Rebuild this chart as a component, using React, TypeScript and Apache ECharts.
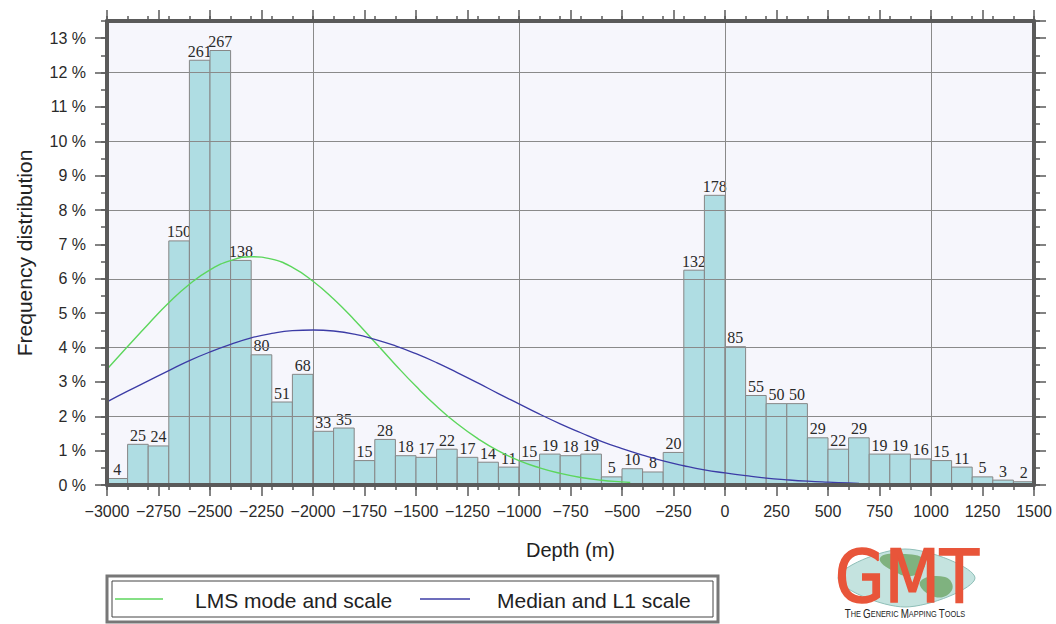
import React, { useEffect, useRef } from 'react';
import * as echarts from 'echarts';

// Histogram bins (start of each 100 m bin) and counts
const binStarts = [
  -3000, -2900, -2800, -2700, -2600, -2500, -2400, -2300, -2200, -2100,
  -2000, -1900, -1800, -1700, -1600, -1500, -1400, -1300, -1200, -1100,
  -1000, -900, -800, -700, -600, -500, -400, -300, -200, -100,
  0, 100, 200, 300, 400, 500, 600, 700, 800, 900,
  1000, 1100, 1200, 1300, 1400,
];
const binWidth = 100;
const counts = [
  4, 25, 24, 150, 261, 267, 138, 80, 51, 68,
  33, 35, 15, 28, 18, 17, 22, 17, 14, 11,
  15, 19, 18, 19, 5, 10, 8, 20, 132, 178,
  85, 55, 50, 50, 29, 22, 29, 19, 19, 16,
  15, 11, 5, 3, 2,
];

// LMS mode and scale curve (%)
const lmsX = [-3000, -2900, -2800, -2700, -2600, -2500, -2400, -2300, -2200, -2100, -2000, -1900, -1800, -1700, -1600, -1500, -1400, -1300, -1200, -1100, -1000, -900, -800, -700, -600, -500, -460];
const lmsY = [3.37, 4.03, 4.68, 5.30, 5.84, 6.26, 6.53, 6.64, 6.57, 6.33, 5.93, 5.41, 4.81, 4.16, 3.50, 2.87, 2.29, 1.78, 1.35, 0.99, 0.71, 0.50, 0.34, 0.22, 0.14, 0.09, 0.074];

// Median and L1 scale curve (%)
const l1X = [-3000, -2900, -2800, -2700, -2600, -2500, -2400, -2300, -2200, -2100, -2000, -1900, -1800, -1700, -1600, -1500, -1400, -1300, -1200, -1100, -1000, -900, -800, -700, -600, -500, -400, -300, -200, -100, 0, 100, 200, 300, 400, 500, 600, 651];
const l1Y = [2.42, 2.73, 3.03, 3.33, 3.62, 3.87, 4.09, 4.28, 4.41, 4.49, 4.51, 4.48, 4.39, 4.24, 4.05, 3.82, 3.56, 3.27, 2.97, 2.66, 2.36, 2.06, 1.78, 1.52, 1.27, 1.06, 0.87, 0.70, 0.56, 0.44, 0.35, 0.27, 0.20, 0.15, 0.11, 0.082, 0.060, 0.050];

const FRAME = '#5a5a5a';
const SANS = '"Liberation Sans", Arial, sans-serif';
const SERIF = '"Liberation Serif", "Times New Roman", serif';

export default function App() {
  const ref = useRef<HTMLDivElement>(null);

  useEffect(() => {
    if (!ref.current) return;
    const chart = echarts.init(ref.current, undefined, { renderer: 'svg' });
    const total = counts.reduce((a, b) => a + b, 0);
    const histData = binStarts.map((s, i) => [s, s + binWidth, (counts[i] / total) * 100, counts[i]]);

    const fmtX = (v: number) => (v < 0 ? '\u2212' + Math.abs(v) : String(v));

    const hiddenLine = { show: false, onZero: false };
    const frameLine = { show: true, onZero: false, lineStyle: { color: FRAME, width: 4 } };

    const baseX = {
      type: 'value',
      min: -3000,
      max: 1500,
      splitLine: { show: false },
      axisLabel: { show: false },
      axisLine: hiddenLine,
      axisTick: { show: false },
      z: 6,
    };
    const baseY = {
      type: 'value',
      min: 0,
      max: 13.5,
      splitLine: { show: false },
      axisLabel: { show: false },
      axisLine: hiddenLine,
      axisTick: { show: false },
      z: 6,
    };

    const option: any = {
      animation: false,
      grid: {
        left: 107, right: 22, top: 21, bottom: 139,
        show: true, backgroundColor: '#f6f6fc', borderWidth: 0,
      },
      xAxis: [
        {
          ...baseX, position: 'bottom', interval: 250,
          axisLine: frameLine,
          axisTick: { show: true, length: 11, lineStyle: { color: FRAME, width: 1.5 } },
          axisLabel: { show: true, formatter: fmtX, fontSize: 16, fontFamily: SANS, color: '#2a2a2a', margin: 18 },
          name: 'Depth (m)', nameLocation: 'middle', nameGap: 55,
          nameTextStyle: { fontSize: 20, fontFamily: SANS, color: '#222' },
        },
        {
          ...baseX, position: 'bottom', interval: 100,
          axisTick: { show: true, length: 5, lineStyle: { color: FRAME, width: 1.5 } },
        },
        {
          ...baseX, position: 'top', interval: 250,
          axisLine: frameLine,
          axisTick: { show: true, length: 11, lineStyle: { color: FRAME, width: 1.5 } },
        },
        {
          ...baseX, position: 'top', interval: 100,
          axisTick: { show: true, length: 5, lineStyle: { color: FRAME, width: 1.5 } },
        },
        {
          ...baseX, position: 'bottom', interval: 1000, z: 3,
          splitLine: { show: true, lineStyle: { color: '#8a8a8a', width: 1 } },
        },
      ],
      yAxis: [
        {
          ...baseY, position: 'left', interval: 1,
          axisLine: frameLine,
          axisTick: { show: true, length: 12, lineStyle: { color: FRAME, width: 1.5 } },
          axisLabel: {
            show: true, showMaxLabel: false, fontSize: 16, fontFamily: SANS, color: '#2a2a2a', margin: 21,
            formatter: (v: number) => (Number.isInteger(v) ? v + ' %' : ''),
          },
          name: 'Frequency distribution', nameLocation: 'middle', nameGap: 72,
          nameTextStyle: { fontSize: 21, fontFamily: SANS, color: '#222' },
        },
        {
          ...baseY, position: 'left', interval: 0.5,
          axisTick: { show: true, length: 6, lineStyle: { color: FRAME, width: 1.5 } },
        },
        {
          ...baseY, position: 'right', interval: 1,
          axisLine: frameLine,
          axisTick: { show: true, length: 12, lineStyle: { color: FRAME, width: 1.5 } },
        },
        {
          ...baseY, position: 'right', interval: 0.5,
          axisTick: { show: true, length: 6, lineStyle: { color: FRAME, width: 1.5 } },
        },
        {
          ...baseY, position: 'left', interval: 2, z: 3,
          splitLine: { show: true, lineStyle: { color: '#8a8a8a', width: 1 } },
        },
      ],
      series: [
        {
          type: 'custom',
          name: 'Histogram',
          xAxisIndex: 0,
          yAxisIndex: 0,
          z: 2,
          data: histData,
          encode: { x: [0, 1], y: 2 },
          renderItem: (params: any, api: any) => {
            const x0 = api.value(0);
            const x1 = api.value(1);
            const y = api.value(2);
            const c = api.value(3);
            const p0 = api.coord([x0, y]);
            const p1 = api.coord([x1, 0]);
            return {
              type: 'group',
              children: [
                {
                  type: 'rect',
                  shape: { x: p0[0], y: p0[1], width: p1[0] - p0[0], height: p1[1] - p0[1] },
                  style: { fill: '#afdde3', stroke: '#868686', lineWidth: 1 },
                },
                {
                  type: 'text',
                  x: (p0[0] + p1[0]) / 2,
                  y: p0[1] - 1,
                  style: {
                    text: String(c), fill: '#2a2a2a', fontSize: 16, fontFamily: SERIF,
                    align: 'center', verticalAlign: 'bottom',
                  },
                },
              ],
            };
          },
        },
        {
          type: 'line', name: 'LMS mode and scale', xAxisIndex: 0, yAxisIndex: 0, z: 4,
          data: lmsX.map((x, i) => [x, lmsY[i]]), showSymbol: false, smooth: true,
          lineStyle: { color: '#5cd65c', width: 1.4 },
        },
        {
          type: 'line', name: 'Median and L1 scale', xAxisIndex: 0, yAxisIndex: 0, z: 4,
          data: l1X.map((x, i) => [x, l1Y[i]]), showSymbol: false, smooth: true,
          lineStyle: { color: '#3c3ca6', width: 1.3 },
        },
      ],
      graphic: [
        {
          type: 'rect', shape: { x: 107, y: 576, width: 611, height: 46 },
          style: { fill: '#ffffff', stroke: '#777777', lineWidth: 3 },
        },
        {
          type: 'rect', shape: { x: 112, y: 581, width: 601, height: 36 },
          style: { fill: 'none', stroke: '#444444', lineWidth: 1 },
        },
        { type: 'line', shape: { x1: 115, y1: 599, x2: 163, y2: 599 }, style: { stroke: '#5cd65c', lineWidth: 1.5 } },
        {
          type: 'text', x: 195, y: 600,
          style: { text: 'LMS mode and scale', fontSize: 21, fontFamily: SANS, fill: '#222', verticalAlign: 'middle' },
        },
        { type: 'line', shape: { x1: 420, y1: 599, x2: 470, y2: 599 }, style: { stroke: '#3c3ca6', lineWidth: 1.5 } },
        {
          type: 'text', x: 497, y: 600,
          style: { text: 'Median and L1 scale', fontSize: 21, fontFamily: SANS, fill: '#222', verticalAlign: 'middle' },
        },
        // GMT logo
        {
          type: 'polygon',
          shape: { points: [[838, 578], [905, 549], [975, 578], [905, 607]], smooth: 0.35 },
          style: { fill: '#c4e3df', stroke: '#8fbfb8', lineWidth: 1 },
        },
        {
          type: 'polygon', shape: { points: [[880, 558], [905, 554], [925, 561], [915, 575], [895, 572]], smooth: 0.5 },
          style: { fill: '#7fb27f' },
        },
        {
          type: 'polygon', shape: { points: [[920, 582], [945, 577], [952, 590], [935, 597]], smooth: 0.5 },
          style: { fill: '#7fb27f' },
        },
        {
          type: 'text', x: 907, y: 576, scaleY: 1.15,
          style: {
            text: 'GMT', fontSize: 64, fontWeight: 'normal', fontFamily: '"DejaVu Sans", sans-serif',
            fill: '#e8553a', stroke: '#e8553a', lineWidth: 1.5,
            align: 'center', verticalAlign: 'middle',
          },
        },
        {
          type: 'text', x: 905, y: 614, scaleX: 0.82,
          style: {
            text: '{b|T}{s|HE }{b|G}{s|ENERIC }{b|M}{s|APPING }{b|T}{s|OOLS}',
            align: 'center', verticalAlign: 'middle',
            rich: {
              b: { fontSize: 12, fontFamily: SANS, fill: '#222', color: '#222' },
              s: { fontSize: 9, fontFamily: SANS, fill: '#222', color: '#222' },
            },
          },
        },
      ],
    };

    chart.setOption(option);
    return () => chart.dispose();
  }, []);

  return (
    <div
      ref={ref}
      style={{ position: 'fixed', left: 0, top: 0, width: 1056, height: 624, background: '#ffffff' }}
    />
  );
}
